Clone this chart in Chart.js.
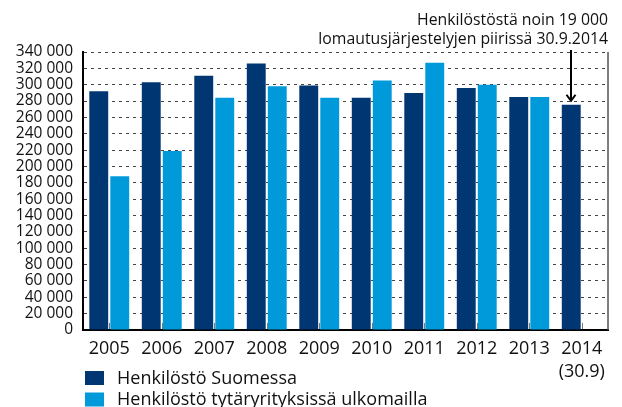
<!DOCTYPE html>
<html>
<head>
<meta charset="utf-8">
<script src="https://cdn.jsdelivr.net/npm/chart.js@4/dist/chart.umd.min.js"></script>
<style>
  html, body { margin: 0; padding: 0; background: #fff; }
  #wrap { width: 622px; height: 407px; position: relative; overflow: hidden; }
</style>
</head>
<body>
<div id="wrap"><canvas id="c" width="622" height="407"></canvas></div>
<script>
const categories = ['2005', '2006', '2007', '2008', '2009', '2010', '2011', '2012', '2013', ['2014', '(30.9)']];
const finlandStaff = [292000, 303000, 311000, 326000, 299000, 284000, 290000, 296000, 285000, 275500];
const abroadStaff = [188000, 219000, 284000, 298000, 284000, 305000, 327000, 300000, 285000, null];
const seriesNames = ['Henkilöstö Suomessa', 'Henkilöstö tytäryrityksissä ulkomailla'];
const yTickLabels = ['0', '20 000', '40 000', '60 000', '80 000', '100 000', '120 000', '140 000', '160 000',
  '180 000', '200 000', '220 000', '240 000', '260 000', '280 000', '300 000', '320 000', '340 000'];
const noteLines = ['Henkilöstöstä noin 19 000', 'lomautusjärjestelyjen piirissä 30.9.2014'];
const noteIndex = 9;

const FONT = '"Open Sans", "DejaVu Sans", sans-serif';
const DARK = '#003773';
const LIGHT = '#0099da';

const extras = {
  id: 'extras',
  beforeDatasetsDraw(chart) {
    const ctx = chart.ctx, a = chart.chartArea;
    ctx.save();
    ctx.strokeStyle = '#555';
    ctx.lineWidth = 1.5;
    ctx.beginPath();
    ctx.moveTo(a.right, a.top);
    ctx.lineTo(a.right, a.bottom);
    ctx.stroke();
    ctx.restore();
  },
  afterDraw(chart) {
    const ctx = chart.ctx, a = chart.chartArea, xs = chart.scales.x;
    ctx.save();
    ctx.strokeStyle = '#777';
    ctx.lineWidth = 1;
    for (let i = 0; i < categories.length; i++) {
      const x = Math.round(xs.getPixelForValue(i)) + 0.5;
      ctx.beginPath();
      ctx.moveTo(x, a.bottom - 7);
      ctx.lineTo(x, a.bottom - 1);
      ctx.stroke();
    }
    ctx.fillStyle = '#111';
    ctx.font = '15.8px ' + FONT;
    ctx.textAlign = 'right';
    ctx.textBaseline = 'middle';
    ctx.fillText(noteLines[0], a.right, 20);
    ctx.fillText(noteLines[1], a.right, 39);
    const bar = chart.getDatasetMeta(0).data[noteIndex];
    const ax = Math.round(bar.x);
    const tip = bar.y - 4;
    ctx.strokeStyle = '#000';
    ctx.lineWidth = 2;
    ctx.beginPath();
    ctx.moveTo(ax, 50);
    ctx.lineTo(ax, tip);
    ctx.stroke();
    ctx.beginPath();
    ctx.moveTo(ax - 4.5, tip - 6);
    ctx.lineTo(ax, tip);
    ctx.lineTo(ax + 4.5, tip - 6);
    ctx.stroke();
    ctx.font = '18px ' + FONT;
    ctx.textAlign = 'left';
    chart.data.datasets.forEach((ds, i) => {
      const y = 371 + i * 21.5;
      ctx.fillStyle = ds.backgroundColor;
      ctx.fillRect(85, y, 19, 14);
      ctx.fillStyle = '#111';
      ctx.fillText(ds.label, 117, y + 7.5);
    });
    ctx.restore();
  }
};

new Chart(document.getElementById('c'), {
  type: 'bar',
  data: {
    labels: categories,
    datasets: [
      { label: seriesNames[0], data: finlandStaff, backgroundColor: DARK, categoryPercentage: 0.8, barPercentage: 0.9 },
      { label: seriesNames[1], data: abroadStaff, backgroundColor: LIGHT, categoryPercentage: 0.8, barPercentage: 0.9 }
    ]
  },
  options: {
    responsive: false,
    animation: false,
    devicePixelRatio: 1,
    layout: { padding: { top: 52, right: 14, left: 0, bottom: 0 } },
    plugins: { legend: { display: false }, tooltip: { enabled: false }, title: { display: false } },
    scales: {
      x: {
        afterFit(scale) { scale.height = 77; },
        grid: { display: false, drawTicks: false },
        border: { display: true, color: '#000', width: 2 },
        ticks: { color: '#111', font: { family: FONT, size: 18, lineHeight: 1.25 }, padding: 8, maxRotation: 0, autoSkip: false }
      },
      y: {
        min: 0, max: 340000,
        afterFit(scale) { scale.width = 83; },
        grid: { color: '#444', lineWidth: 1, drawTicks: false },
        border: { display: true, color: '#000', width: 2, dash: [3, 4] },
        ticks: {
          stepSize: 20000, padding: 10, color: '#111', autoSkip: false,
          font: { family: FONT, size: 15.5, lineHeight: 1 },
          callback: (v, i) => yTickLabels[i]
        }
      }
    }
  },
  plugins: [extras]
});
</script>
</body>
</html>
